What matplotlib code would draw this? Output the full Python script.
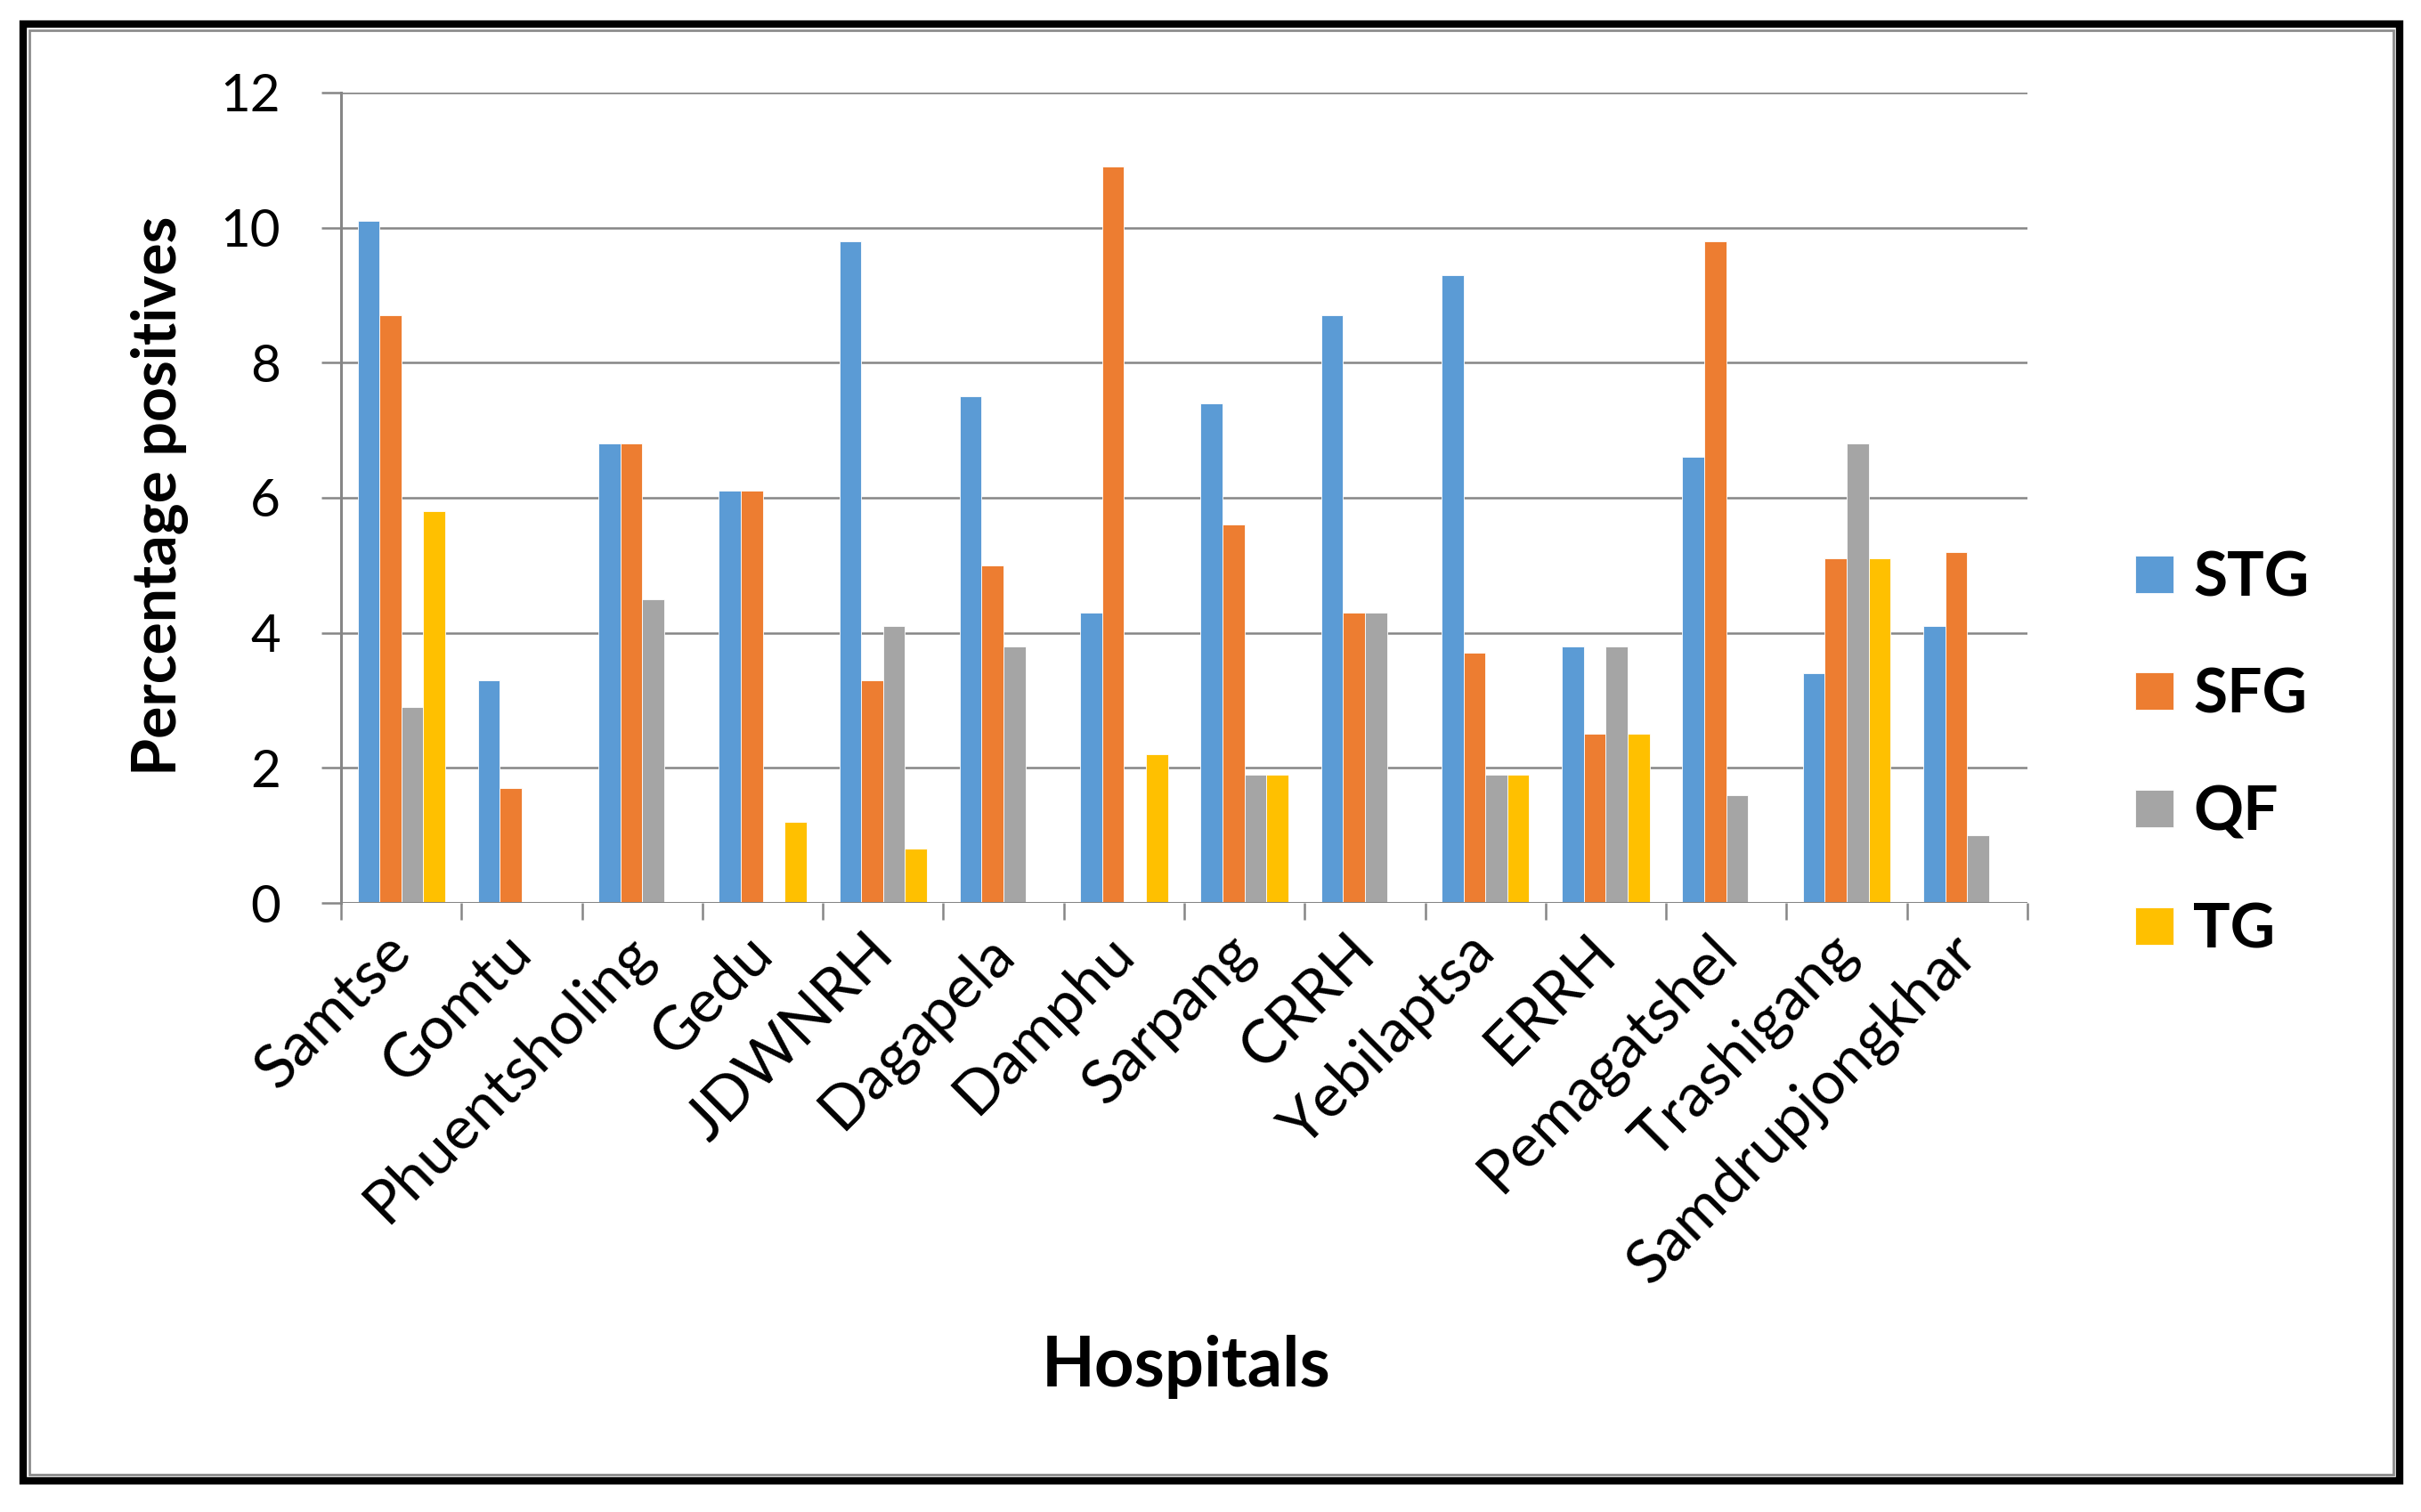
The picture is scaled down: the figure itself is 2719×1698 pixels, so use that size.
import matplotlib
matplotlib.use("Agg")
import matplotlib.pyplot as plt
import matplotlib.transforms as mtransforms
import numpy as np
from matplotlib.patches import Rectangle

hospitals = ["Samtse", "Gomtu", "Phuentsholing", "Gedu", "JDWNRH", "Dagapela",
             "Damphu", "Sarpang", "CRRH", "Yebilaptsa", "ERRH", "Pemagatshel",
             "Trashigang", "Samdrupjongkhar"]
stg = [10.1, 3.3, 6.8, 6.1, 9.8, 7.5, 4.3, 7.4, 8.7, 9.3, 3.8, 6.6, 3.4, 4.1]
sfg = [8.7, 1.7, 6.8, 6.1, 3.3, 5.0, 10.9, 5.6, 4.3, 3.7, 2.5, 9.8, 5.1, 5.2]
qf = [2.9, 0, 4.5, 0, 4.1, 3.8, 0, 1.9, 4.3, 1.9, 3.8, 1.6, 6.8, 1.0]
tg = [5.8, 0, 0, 1.2, 0.8, 0, 2.2, 1.9, 0, 1.9, 2.5, 0, 5.1, 0]
series_names = ["STG", "SFG", "QF", "TG"]
colors = ["#5B9BD5", "#ED7D31", "#A5A5A5", "#FFC000"]

plt.rcParams["font.family"] = ["Lato", "DejaVu Sans"]

fig = plt.figure(figsize=(27.19, 16.98), dpi=100)
ax = fig.add_axes([0.1409, 0.4028, 0.8374 - 0.1409, 0.9388 - 0.4028])

x = np.arange(len(hospitals))
width = 0.182
for i, (vals, name, col) in enumerate(zip([stg, sfg, qf, tg], series_names, colors)):
    ax.bar(x + (i - 1.5) * width, vals, width, color=col, label=name,
           edgecolor="white", linewidth=0.6, zorder=3)

ax.set_ylim(0, 12)
ax.set_xlim(-0.5, len(hospitals) - 0.5)
ax.set_yticks(range(0, 13, 2))
ax.yaxis.grid(True, color="#868686", linewidth=1.8, zorder=0)
ax.tick_params(axis="y", length=16, width=1.8, color="#868686", pad=33,
               labelsize=42)
for s in ["top", "right", "bottom"]:
    ax.spines[s].set_visible(False)
ax.spines["left"].set_color("#868686")
ax.spines["left"].set_linewidth(2.2)
ax.axhline(0, color="#868686", linewidth=2.2, zorder=4)

ax.set_xticks(np.arange(-0.5, len(hospitals), 1.0))
ax.set_xticklabels([])
ax.tick_params(axis="x", which="major", length=14, width=1.8, color="#868686")
ax.set_xticks(x, minor=True)
ax.set_xticklabels(hospitals, minor=True, rotation=45, ha="right",
                   rotation_mode="anchor", fontsize=49)
ax.tick_params(axis="x", which="minor", length=0, pad=17)
shift = mtransforms.ScaledTranslation(-0.21, 0, fig.dpi_scale_trans)
for lbl in ax.get_xticklabels(minor=True):
    lbl.set_transform(lbl.get_transform() + shift)

fig.text(0.066, 0.672, "Percentage positives", rotation=90, ha="center",
         va="center", fontsize=49, fontweight="bold")
fig.text(0.49, 0.096, "Hospitals", ha="center", va="center", fontsize=56,
         fontweight="bold")

fig.legend(loc="center left", bbox_to_anchor=(0.882, 0.501), frameon=False,
           handlelength=0.62, handleheight=0.55,
           handletextpad=0.32, labelspacing=0.99, borderpad=0,
           borderaxespad=0, prop={"weight": "bold", "size": 50})

# outer frame: black border with a thin grey inner line
fig.patches.append(Rectangle((0.00956, 0.0206), 0.9816, 0.9635,
                             transform=fig.transFigure, fill=False,
                             edgecolor="black", linewidth=6))
fig.patches.append(Rectangle((0.0121, 0.0247), 0.9766, 0.9553,
                             transform=fig.transFigure, fill=False,
                             edgecolor="#8C8C8C", linewidth=2))

fig.savefig("out.png", dpi=100)
